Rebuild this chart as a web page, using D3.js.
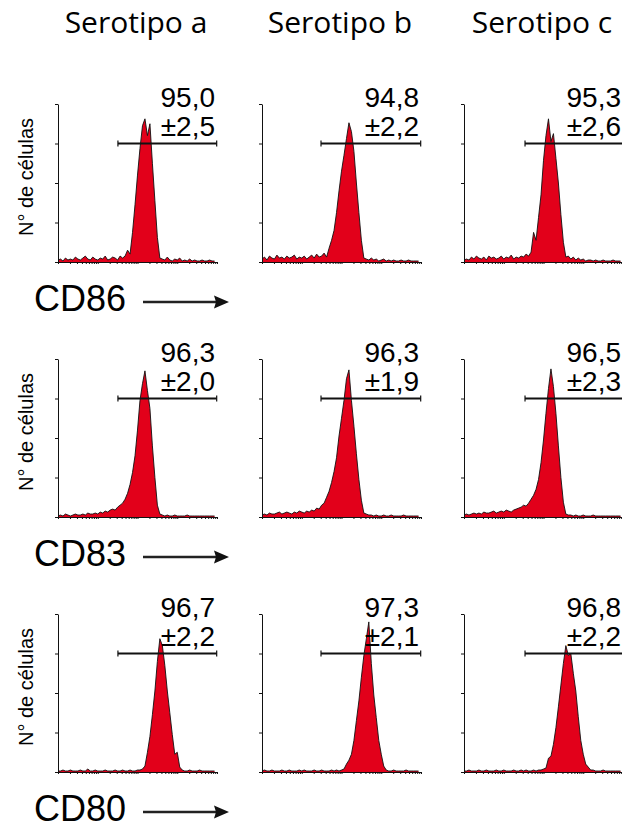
<!DOCTYPE html>
<html>
<head>
<meta charset="utf-8">
<script src="https://cdn.jsdelivr.net/npm/d3@7"></script>
<style>
body{margin:0;background:#fff;}
</style>
</head>
<body>
<div id="chart"></div>
<script>
//Column / row labels
const serotypes = ["Serotipo a", "Serotipo b", "Serotipo c"];
const markers = ["CD86", "CD83", "CD80"];
const yTitle = "N° de células";

//Percent positive cells and SD (rows = markers, cols = serotypes)
const pctPositive = [[95.0, 94.8, 95.3], [96.3, 96.3, 96.5], [96.7, 97.3, 96.8]];
const pctSD = [[2.5, 2.2, 2.6], [2.0, 1.9, 2.3], [2.2, 2.1, 2.2]];

//Gate limits in channels (0-1024), per serotype column
const gateFrom = [386, 380, 393];
const gateTo = 1022;
const gateLevel = 120;

//Histogram counts, 64 bins of 16 channels each
const histCD86a = [2,3,1,4,2,3,2,5,3,2,4,6,3,2,5,3,2,4,3,6,2,3,5,4,2,6,4,6,12,8,30,58,88,115,138,145,128,140,100,62,25,4,3,2,5,2,1,3,2,4,1,2,1,3,1,2,1,1,2,1,1,2,1,1];
const histCD86b = [3,5,2,6,4,3,7,4,5,3,6,4,5,7,3,5,4,6,3,5,7,4,8,5,6,9,5,14,22,32,50,72,92,108,125,141,132,112,80,50,22,4,3,2,4,2,3,1,2,3,1,2,1,2,1,1,2,1,1,2,1,1,1,1];
const histCD86c = [2,3,2,5,3,6,4,3,5,2,6,4,5,3,4,6,3,5,4,7,3,5,4,6,5,8,6,10,30,22,45,68,103,128,145,122,130,105,80,48,20,5,6,3,5,2,4,2,3,1,2,2,1,2,1,1,2,1,1,1,2,1,1,1];
const histCD83a = [1,2,1,3,2,1,2,3,2,2,3,2,4,3,3,4,3,5,4,6,5,7,8,7,10,12,14,18,24,33,45,62,88,118,135,148,128,110,72,40,12,3,2,1,2,1,1,2,1,1,1,1,2,1,1,1,1,1,1,1,1,1,1,1];
const histCD83b = [2,3,2,4,3,3,4,5,3,4,5,4,3,5,4,6,5,4,6,5,7,6,9,8,12,14,20,26,35,46,60,82,100,118,140,149,118,92,64,38,17,4,3,2,2,1,2,1,1,2,1,1,2,1,1,1,1,2,1,1,1,1,1,1];
const histCD83c = [2,3,2,3,4,3,4,3,5,4,4,5,6,4,5,6,5,7,6,5,7,8,9,10,12,11,14,18,22,28,38,55,78,105,130,150,132,105,72,40,15,3,2,2,1,2,1,1,2,1,1,1,2,1,1,1,1,1,1,1,1,1,1,1];
const histCD80a = [1,1,2,1,1,2,1,1,1,2,1,1,3,1,1,2,1,1,1,2,1,1,1,2,1,1,2,1,1,2,1,1,2,2,3,6,20,36,58,82,112,135,128,108,82,60,38,18,20,5,2,1,1,2,1,1,1,2,1,1,1,1,1,1];
const histCD80b = [1,2,1,1,2,1,1,1,2,1,1,2,1,1,1,2,1,2,1,1,1,2,1,1,2,1,1,1,2,1,2,1,2,3,8,12,18,32,52,72,96,118,135,152,110,78,55,32,18,6,2,1,1,2,1,1,1,1,2,1,1,1,1,1];
const histCD80c = [1,1,2,1,1,1,2,1,1,2,1,1,1,2,1,1,2,1,1,1,2,1,1,2,1,2,1,1,2,1,2,2,3,4,14,16,28,45,66,88,110,128,118,120,100,82,56,32,18,8,5,2,2,1,1,1,2,1,1,1,1,1,1,1];

const histograms = [
    [histCD86a, histCD86b, histCD86c],
    [histCD83a, histCD83b, histCD83c],
    [histCD80a, histCD80b, histCD80c]
];
const binWidth = 16;

//Layout
const panelX = [58, 262, 464],
    panelY = [104, 359, 614],
    W = 159, H = 158;

const svg = d3.select("#chart")
    .append("svg")
    .attr("width", 622)
    .attr("height", 825)
    .style("font-family", "'Liberation Sans', Arial, sans-serif");

//Scales
const x = d3.scaleLinear().domain([0, 1024]).range([0, W]);
const xLog = d3.scaleLog().domain([1, 10000]).range([0, W]);
const y = d3.scaleLinear().domain([0, 160]).range([H, 0]);

const area = d3.area()
    .x((d, i) => x(i * binWidth))
    .y0(H)
    .y1(d => y(d));
const line = d3.line()
    .x((d, i) => x(i * binWidth))
    .y(d => y(d));

const fmt = v => d3.format(".1f")(v).replace(".", ",");

//Column titles
svg.selectAll(".col-title")
    .data(serotypes)
    .join("text")
    .attr("class", "col-title")
    .attr("x", (d, i) => panelX[i] + 78)
    .attr("y", 33)
    .attr("text-anchor", "middle")
    .style("font-family", "'Open Sans', sans-serif")
    .style("font-size", "30px")
    .text(d => d);

markers.forEach((marker, r) => {
    //y title
    svg.append("text")
        .attr("transform", `translate(33, ${panelY[r] + 73}) rotate(-90)`)
        .attr("text-anchor", "middle")
        .style("font-size", "20px")
        .text(yTitle);

    //Marker name with arrow
    svg.append("text")
        .attr("x", 34)
        .attr("y", panelY[r] + 207)
        .style("font-size", "36px")
        .text(marker);
    const ay = panelY[r] + 198;
    svg.append("line")
        .attr("x1", 143).attr("x2", 218)
        .attr("y1", ay).attr("y2", ay)
        .attr("stroke", "#222")
        .attr("stroke-width", 2.5);
    svg.append("path")
        .attr("d", `M229,${ay} L214,${ay - 6.5} L216,${ay} L214,${ay + 6.5} Z`)
        .attr("fill", "#111");

    serotypes.forEach((s, c) => {
        const g = svg.append("g")
            .attr("transform", `translate(${panelX[c]},${panelY[r]})`);
        const counts = histograms[r][c];

        //Histogram
        g.append("path")
            .datum(counts)
            .attr("d", area)
            .attr("fill", "#e2001a");
        g.append("path")
            .datum(counts)
            .attr("d", line)
            .attr("fill", "none")
            .attr("stroke", "#111")
            .attr("stroke-width", 0.9);

        //Axes
        g.append("g")
            .call(d3.axisLeft(y).tickValues([0, 40, 80, 120, 160]).tickSize(3).tickSizeOuter(0).tickFormat(""))
            .call(a => a.selectAll("line, path").attr("stroke", "#111"));
        g.append("g")
            .attr("transform", `translate(0,${H})`)
            .call(d3.axisBottom(xLog).tickValues(xLog.ticks()).tickSize(2).tickSizeOuter(0).tickFormat(""))
            .call(a => a.selectAll("line, path").attr("stroke", "#111"));

        //Gate
        const gy = y(gateLevel);
        g.append("line")
            .attr("x1", x(gateFrom[c])).attr("x2", x(gateTo))
            .attr("y1", gy).attr("y2", gy)
            .attr("stroke", "#111").attr("stroke-width", 1.8);
        [gateFrom[c], gateTo].forEach(v => {
            g.append("line")
                .attr("x1", x(v)).attr("x2", x(v))
                .attr("y1", gy - 3).attr("y2", gy + 3)
                .attr("stroke", "#111").attr("stroke-width", 1.2);
        });

        //Percent labels
        g.append("text")
            .attr("x", W - 2)
            .attr("y", gy - 37)
            .attr("text-anchor", "end")
            .style("font-size", "28px")
            .text(fmt(pctPositive[r][c]));
        g.append("text")
            .attr("x", W - 2)
            .attr("y", gy - 8)
            .attr("text-anchor", "end")
            .style("font-size", "28px")
            .text("±" + fmt(pctSD[r][c]));
    });
});
</script>
</body>
</html>
